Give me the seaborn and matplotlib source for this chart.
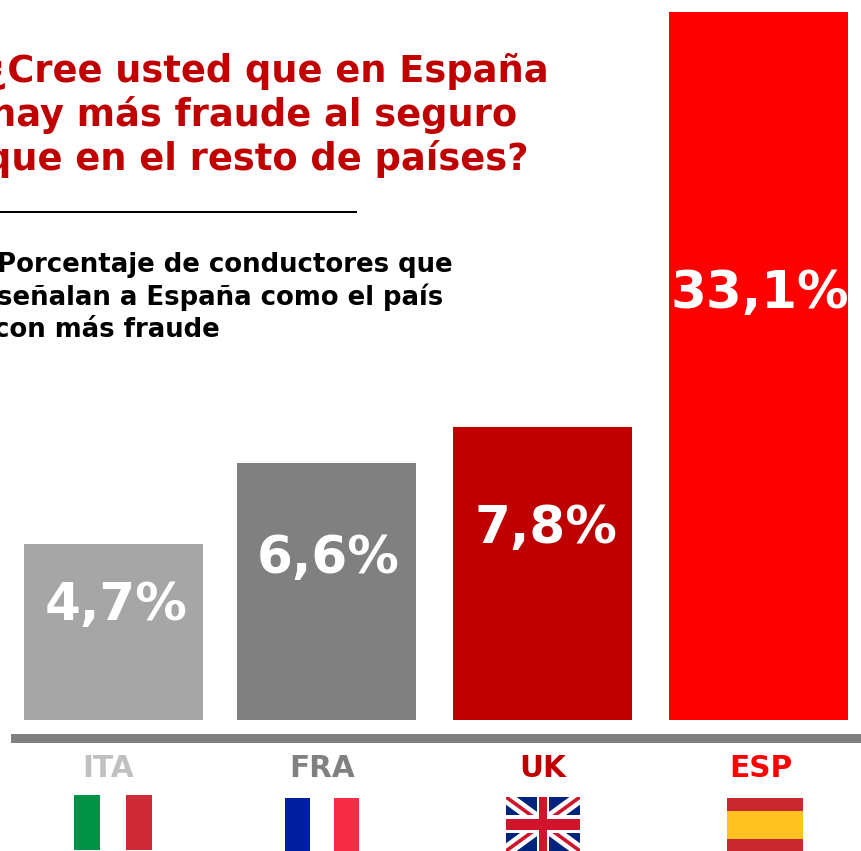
import numpy as np
import pandas as pd
import matplotlib
matplotlib.use("Agg")
import matplotlib.pyplot as plt
from matplotlib.patches import Rectangle
import seaborn as sns

# ---- data ----
countries = ["ITA", "FRA", "UK", "ESP"]
values = [4.7, 6.6, 7.8, 33.1]
bar_colors = ["#A6A6A6", "#808080", "#BE0000", "#FF0000"]
label_colors = ["#C0C0C0", "#808080", "#C00000", "#FF0000"]
title_lines = ["¿Cree usted que en España", "hay más fraude al seguro", "que en el resto de países?"]
subtitle_lines = ["Porcentaje de conductores que", "señalan a España como el país", "con más fraude"]

# ---- layout (pixels) ----
W, H = 861, 851
bar_centers = [113.5, 326.5, 542.5, 758.5]
bar_px = [0, 176, 257, 293, 708]          # the original axis is not proportional
label_xy = [(116, 620), (328, 573), (546, 543), (760, 308)]
code_x = [108, 322, 543, 761]
title_xy = [(-14, 82), (-10, 126), (-15, 170)]
subtitle_xy = [(-3, 272), (-3, 305), (-6, 337)]

sns.set_theme(style="white")
plt.rcParams["font.family"] = ["DejaVu Sans"]
fig = plt.figure(figsize=(W / 100, H / 100), dpi=100, facecolor="white")
ax = fig.add_axes([0, (H - 720) / H, 1, 708 / H])

knots = [0] + values
def forward(v):
    return np.interp(v, knots, bar_px)
def inverse(p):
    return np.interp(p, bar_px, knots)

df = pd.DataFrame({"pos": bar_centers, "value": values, "country": countries})
sns.barplot(data=df, x="pos", y="value", hue="country", palette=dict(zip(countries, bar_colors)),
            native_scale=True, width=179 / 213, dodge=False, legend=False, saturation=1,
            linewidth=0, edgecolor="none", ax=ax)
ax.set_yscale("function", functions=(forward, inverse))
ax.set_xlim(0, W)
ax.set_ylim(0, 33.1)
ax.axis("off")

def px(x, y):
    return x / W, 1 - y / H

def put(x, y, s, size_px, color, ha="left"):
    fig.text(*px(x, y), s, fontsize=size_px * 0.72, color=color, fontweight="bold", ha=ha, va="baseline")

def rect(x0, y0, x1, y1, color):
    fig.add_artist(Rectangle(px(x0, y1), (x1 - x0) / W, (y1 - y0) / H, transform=fig.transFigure,
                             facecolor=color, edgecolor="none"))

for (x, y), v in zip(label_xy, values):
    put(x, y, f"{v:.1f}%".replace(".", ","), 51.5, "white", ha="center")

for (x, y), line in zip(title_xy, title_lines):
    put(x, y, line, 36.8, "#C00000")
for (x, y), line in zip(subtitle_xy, subtitle_lines):
    put(x, y, line, 26, "black")

rect(0, 211, 357, 213, "black")
rect(11, 734, 861, 743, "#808080")

for x, c, col in zip(code_x, countries, label_colors):
    put(x, 777, c, 29.5, col, ha="center")

# flags
rect(74, 795, 100, 850, "#009246")
rect(126, 795, 152, 850, "#CE2B37")
rect(285, 798, 310, 851, "#00209F")
rect(334, 798, 359, 851, "#F72C46")
rect(727, 798, 803, 851, "#C8282E")
rect(727, 811, 803, 839, "#FFC220")

uk = fig.add_axes([506 / W, 0, 74 / W, 54 / H])
uk.set_xlim(0, 74); uk.set_ylim(54, 0); uk.axis("off")
uk.add_patch(Rectangle((0, 0), 74, 54, facecolor="#00247D", edgecolor="none", zorder=1))
for ends in ([54, 0], [0, 54]):
    uk.plot([0, 74], ends, color="white", lw=9, solid_capstyle="butt", zorder=2)
    uk.plot([0, 74], ends, color="#CF142B", lw=2.6, solid_capstyle="butt", zorder=3)
uk.add_patch(Rectangle((30.7, 0), 12.3, 54, facecolor="white", edgecolor="none", zorder=4))
uk.add_patch(Rectangle((0, 18.3), 74, 17.7, facecolor="white", edgecolor="none", zorder=4))
uk.add_patch(Rectangle((33, 0), 7.7, 54, facecolor="#CF142B", edgecolor="none", zorder=5))
uk.add_patch(Rectangle((0, 21.7), 74, 11.6, facecolor="#CF142B", edgecolor="none", zorder=5))

fig.savefig("out.png", dpi=100)
